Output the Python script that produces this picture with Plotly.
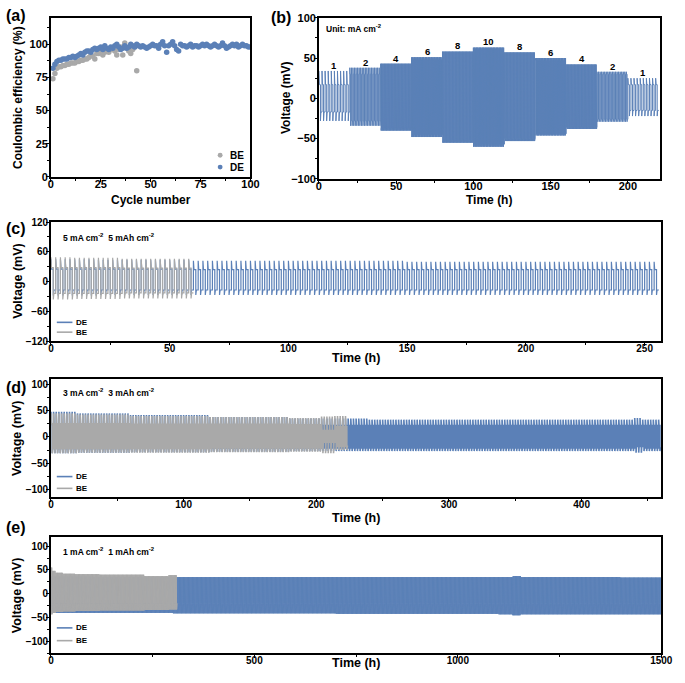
import numpy as np
import plotly.graph_objects as go

W, H = 685, 683
BLUE = "#5b80b7"
GRAY = "#a9a9a9"
FONT = "Liberation Sans, Arial, sans-serif"

# ---------------- data ----------------
# (a) Coulombic efficiency vs cycle number
cycles_de = list(range(1, 101))
ce_de = [82, 85, 87, 88, 88, 89, 89, 89, 90, 90,
         91, 90, 91, 92, 93, 92, 94, 95, 95, 94,
         96, 97, 96, 97, 98, 96, 99, 97, 96, 98,
         97, 99, 100, 98, 96, 97, 99, 97, 98, 100,
         99, 98, 100, 99, 98, 99, 98, 97, 98, 99,
         100, 99, 99, 97, 100, 102, 99, 94, 99, 100,
         102, 99, 96, 95, 100, 99, 99, 98, 99, 100,
         98, 99, 99, 98, 99, 100, 99, 100, 99, 98,
         99, 100, 99, 98, 99, 101, 99, 97, 98, 99,
         100, 99, 100, 98, 99, 100, 99, 99, 98, 98]
cycles_be = list(range(1, 44))
ce_be = [74, 78, 82, 83, 83, 84, 84, 85, 85, 86,
         86, 86, 87, 87, 88, 88, 89, 89, 90, 92,
         91, 89, 93, 93, 94, 92, 94, 95, 94, 96,
         97, 95, 92, 96, 98, 92, 101, 97, 95, 93,
         96, 98, 80]

# (b) rate test, 1 mAh cm-2 per half cycle, 20 h per current step
b_current = [1, 2, 4, 6, 8, 10, 8, 6, 4, 2, 1]          # mA cm-2
b_step_start = [0, 20, 40, 60, 80, 100, 120, 140, 160, 180, 200]  # h
b_step_hours = 20
b_capacity = 1.0                                          # mAh cm-2
b_up_peak = [34, 38, 43, 51, 58, 63, 57, 50, 42, 33, 25]  # mV
b_up_plat = [17, 30, 40, 48, 55, 61, 54, 47, 39, 30, 17]
b_lo_plat = [-17, -28, -37, -45, -52, -57, -50, -44, -36, -26, -15]
b_lo_peak = [-28, -34, -40, -48, -55, -60, -53, -46, -38, -29, -22]

# (c) 5 mA cm-2, 5 mAh cm-2 (1 h per half cycle)
c_half_h = 1.0
c_de_end, c_be_end = 256, 60
c_de_t = [0, 20, 60, 150]
c_de_up_peak = [45, 44, 42, 40]
c_de_up_plat = [25, 25, 24, 24]
c_de_lo_plat = [-17, -17, -17, -17]
c_de_lo_peak = [-28, -27, -27, -27]
c_be_t = [0, 10, 30]
c_be_up_peak = [49, 48, 46]
c_be_up_plat = [28, 28, 27]
c_be_lo_plat = [-24, -24, -23]
c_be_lo_peak = [-36, -35, -34]

# (d) 3 mA cm-2, 3 mAh cm-2 (1 h per half cycle)
d_half_h = 1.0
d_de_end, d_be_end = 460, 224
d_de_t = [0, 20, 60, 120, 180, 240, 440, 446]
d_de_up_peak = [48, 45, 42, 38, 35, 33, 36, 33]
d_de_up_plat = [24, 23, 22, 22, 22, 22, 22, 22]
d_de_lo_plat = [-22, -22, -21, -21, -21, -21, -18, -21]
d_de_lo_peak = [-31, -30, -29, -28, -27, -27, -30, -27]
d_be_t = [0, 20, 60, 120, 180, 204, 214]
d_be_up_peak = [45, 43, 40, 38, 36, 39, 40]
d_be_up_plat = [25, 25, 24, 24, 23, 12, 20]
d_be_lo_plat = [-22, -22, -22, -21, -21, -10, -18]
d_be_lo_peak = [-31, -30, -30, -29, -28, -31, -25]

# (e) 1 mA cm-2, 1 mAh cm-2 (1 h per half cycle)
e_half_h = 1.0
e_de_end, e_be_end = 1500, 310
e_de_t = [0, 100, 300, 700, 1100, 1135, 1155, 1400]
e_de_up_peak = [36, 35, 35, 35, 35, 37, 35, 34]
e_de_up_plat = [20, 20, 20, 20, 20, 20, 20, 20]
e_de_lo_plat = [-20, -20, -20, -20, -20, -20, -20, -20]
e_de_lo_peak = [-40, -40, -41, -42, -43, -45, -43, -43]
e_be_t = [0, 4, 12, 30, 60, 120, 230, 290]
e_be_up_peak = [55, 48, 44, 42, 41, 40, 37, 39]
e_be_up_plat = [22, 22, 22, 22, 22, 22, 22, 22]
e_be_lo_plat = [-20, -20, -20, -20, -20, -20, -20, -20]
e_be_lo_peak = [-43, -40, -38, -37, -36, -35, -34, -33]


# ---------------- helpers ----------------
def cycling(t_start, t_end, half, bp_t, up_peak, up_plat, lo_plat, lo_peak, ramp=0.3):
    """Galvanostatic plating/stripping profile built from the read envelope levels."""
    xs, ys = [], []
    n_half = int(round((t_end - t_start) / half))
    for k in range(n_half):
        t = t_start + k * half
        i = int(np.searchsorted(bp_t, t, side="right") - 1)
        if k % 2 == 0:
            pk, pl = up_peak[i], up_plat[i]
        else:
            pk, pl = lo_peak[i], lo_plat[i]
        xs += [t, t + ramp * half, t + half]
        ys += [pk, pl, pl]
    return xs, ys


def px_x(px):
    return px / W


def px_y(py):
    return 1 - py / H


fig = go.Figure()

# (a)
fig.add_trace(go.Scatter(x=cycles_be, y=ce_be, mode="markers", name="BE",
                         marker=dict(color=GRAY, size=5.5), xaxis="x", yaxis="y",
                         showlegend=False))
fig.add_trace(go.Scatter(x=cycles_de, y=ce_de, mode="markers", name="DE",
                         marker=dict(color=BLUE, size=5.5), xaxis="x", yaxis="y",
                         showlegend=False))

# (b)
bx, by = [], []
for i, cur in enumerate(b_current):
    xs, ys = cycling(b_step_start[i], b_step_start[i] + b_step_hours, b_capacity / cur,
                     [0], [b_up_peak[i]], [b_up_plat[i]], [b_lo_plat[i]], [b_lo_peak[i]],
                     ramp=0.3)
    bx += xs
    by += ys
fig.add_trace(go.Scatter(x=bx, y=by, mode="lines", line=dict(color=BLUE, width=1),
                         xaxis="x2", yaxis="y2", showlegend=False))

# (c)
xs, ys = cycling(0, c_de_end, c_half_h, c_de_t, c_de_up_peak, c_de_up_plat,
                 c_de_lo_plat, c_de_lo_peak, ramp=0.25)
fig.add_trace(go.Scatter(x=xs, y=ys, mode="lines", name="DE", line=dict(color=BLUE, width=1.2),
                         xaxis="x3", yaxis="y3", showlegend=False))
xs, ys = cycling(0, c_be_end, c_half_h, c_be_t, c_be_up_peak, c_be_up_plat,
                 c_be_lo_plat, c_be_lo_peak, ramp=0.25)
fig.add_trace(go.Scatter(x=xs, y=ys, mode="lines", name="BE", line=dict(color=GRAY, width=1.2),
                         xaxis="x3", yaxis="y3", showlegend=False))

# (d)
xs, ys = cycling(0, d_de_end, d_half_h, d_de_t, d_de_up_peak, d_de_up_plat,
                 d_de_lo_plat, d_de_lo_peak, ramp=0.3)
fig.add_trace(go.Scatter(x=xs, y=ys, mode="lines", name="DE", line=dict(color=BLUE, width=1.6),
                         xaxis="x4", yaxis="y4", showlegend=False))
xs, ys = cycling(0, d_be_end, d_half_h, d_be_t, d_be_up_peak, d_be_up_plat,
                 d_be_lo_plat, d_be_lo_peak, ramp=0.3)
fig.add_trace(go.Scatter(x=xs, y=ys, mode="lines", name="BE", line=dict(color=GRAY, width=1.6),
                         xaxis="x4", yaxis="y4", showlegend=False))

# (e)
xs, ys = cycling(0, e_de_end, e_half_h, e_de_t, e_de_up_peak, e_de_up_plat,
                 e_de_lo_plat, e_de_lo_peak, ramp=0.3)
fig.add_trace(go.Scatter(x=xs, y=ys, mode="lines", name="DE", line=dict(color=BLUE, width=1),
                         xaxis="x5", yaxis="y5", showlegend=False))
xs, ys = cycling(0, e_be_end, e_half_h, e_be_t, e_be_up_peak, e_be_up_plat,
                 e_be_lo_plat, e_be_lo_peak, ramp=0.3)
fig.add_trace(go.Scatter(x=xs, y=ys, mode="lines", name="BE", line=dict(color=GRAY, width=1),
                         xaxis="x5", yaxis="y5", showlegend=False))


# ---------------- axes ----------------
def ax(domain, rng, dtick, minor_dtick, anchor, size=10, standoff=-2):
    return dict(domain=domain, range=rng, dtick=dtick, tick0=0, anchor=anchor,
                showline=True, linecolor="black", linewidth=1.5, mirror=True,
                ticks="outside", ticklen=3, tickwidth=1.2, tickcolor="black",
                ticklabelstandoff=standoff,
                showgrid=False, zeroline=False,
                tickfont=dict(family=FONT, size=size, color="black", weight="bold"),
                minor=dict(ticks="outside", ticklen=2, tickwidth=1, tickcolor="black",
                           dtick=minor_dtick, tick0=0, showgrid=False))


xa_dom = [px_x(49), px_x(253)]
xb_dom = [px_x(323), px_x(672)]
xw_dom = [px_x(49), px_x(673)]
ya_dom = [px_y(174), px_y(12)]
yb_dom = [px_y(176), px_y(12)]
yc_dom = [px_y(341), px_y(220)]
yd_dom = [px_y(500), px_y(380)]
ye_dom = [px_y(659), px_y(541)]

layout_axes = dict(
    xaxis=ax(xa_dom, [0, 100], 25, 12.5, "y", 11, -7),
    yaxis=ax(ya_dom, [0, 120], 25, 12.5, "x", 11, -4),
    xaxis2=ax(xb_dom, [0, 221], 50, 25, "y2", 11, -7),
    yaxis2=ax(yb_dom, [-100, 100], 50, 25, "x2", 11, -4),
    xaxis3=ax(xw_dom, [0, 257], 50, 25, "y3", 10, -6),
    yaxis3=ax(yc_dom, [-120, 120], 60, 30, "x3", 10, -4),
    xaxis4=ax(xw_dom, [0, 460], 100, 50, "y4", 10, -6),
    yaxis4=ax(yd_dom, [-115, 110], 50, 25, "x4", 10, -4),
    xaxis5=ax(xw_dom, [0, 1500], 500, 250, "y5", 10, -6),
    yaxis5=ax(ye_dom, [-125, 118], 50, 25, "x5", 10, -4),
)

annotations = []
shapes = []


def txt(text, xpx, ypx, size, angle=0, xanchor="center"):
    annotations.append(dict(text=text, x=px_x(xpx), y=px_y(ypx), xref="paper", yref="paper",
                            showarrow=False, xanchor=xanchor, yanchor="middle",
                            textangle=angle,
                            font=dict(family=FONT, size=size, color="black", weight="bold")))


# panel letters
txt("(a)", 1, 10, 16, xanchor="left")
txt("(b)", 272, 12, 16, xanchor="left")
txt("(c)", 1, 226, 16, xanchor="left")
txt("(d)", 1, 388, 16, xanchor="left")
txt("(e)", 1, 531, 16, xanchor="left")

# axis titles
txt("Coulombic efficiency (%)", 16, 93, 12, angle=-90)
txt("Cycle number", 151, 197, 12)
txt("Voltage (mV)", 290, 94, 12, angle=-90)
txt("Time (h)", 497, 197, 12)
txt("Voltage (mV)", 15, 280, 12.5, angle=-90)
txt("Time (h)", 361, 358, 12.5)
txt("Voltage (mV)", 15, 440, 12.5, angle=-90)
txt("Time (h)", 361, 521, 12.5)
txt("Voltage (mV)", 15, 600, 12.5, angle=-90)
txt("Time (h)", 361, 669, 12.5)

# in-panel labels
txt("Unit: mA cm<sup>-2</sup>", 328, 23, 8.5, xanchor="left")
txt("5 mA cm<sup>-2</sup>  5 mAh cm<sup>-2</sup>", 59, 236, 8.5, xanchor="left")
txt("3 mA cm<sup>-2</sup>  3 mAh cm<sup>-2</sup>", 59, 393, 8.5, xanchor="left")
txt("1 mA cm<sup>-2</sup>  1 mAh cm<sup>-2</sup>", 59, 555, 8.5, xanchor="left")

# current-density labels in (b)
for i, cur in enumerate(b_current):
    annotations.append(dict(text=str(cur), x=b_step_start[i] + b_step_hours / 2,
                            y=b_up_peak[i] + 7, xref="x2", yref="y2", showarrow=False,
                            xanchor="center", yanchor="middle",
                            font=dict(family=FONT, size=9.5, color="black", weight="bold")))

# legend of (a): BE / DE markers
for name, color, ypx in [("BE", GRAY, 152), ("DE", BLUE, 164)]:
    shapes.append(dict(type="circle", xref="paper", yref="paper",
                       x0=px_x(219.5), x1=px_x(224.5), y0=px_y(ypx + 2.5), y1=px_y(ypx - 2.5),
                       fillcolor=color, line=dict(width=0)))
    txt(name, 230, ypx, 10, xanchor="left")

# legends of (c), (d), (e): DE / BE lines
for y_de, y_be in [(322, 332), (479, 491), (633, 646)]:
    for name, color, ypx in [("DE", BLUE, y_de), ("BE", GRAY, y_be)]:
        shapes.append(dict(type="line", xref="paper", yref="paper",
                           x0=px_x(55), x1=px_x(71), y0=px_y(ypx), y1=px_y(ypx),
                           line=dict(color=color, width=1.6)))
        txt(name, 73, ypx, 8, xanchor="left")

fig.update_layout(
    width=W, height=H, margin=dict(l=0, r=0, t=0, b=0),
    paper_bgcolor="white", plot_bgcolor="white",
    annotations=annotations, shapes=shapes, showlegend=False,
    **layout_axes,
)

fig.write_html("out.html", config={"displayModeBar": False},
               post_script="document.body.style.margin='0px';document.body.style.overflow='hidden';")
